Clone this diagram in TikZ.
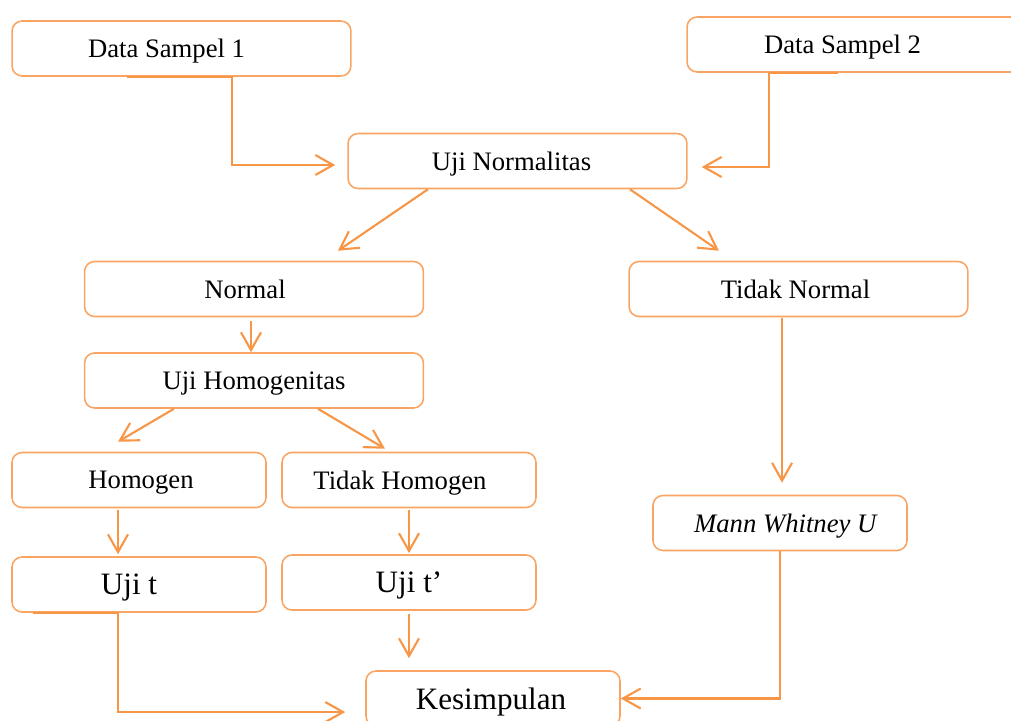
\documentclass[tikz,border=0pt]{standalone}
\usepackage{fontspec}
\setmainfont{Liberation Serif}
\usepackage{xcolor}
\usetikzlibrary{arrows.meta}
\usetikzlibrary{calc}
\definecolor{oranye}{HTML}{F79646}
\definecolor{oranyemuda}{HTML}{F9A462}

\begin{document}
\begin{tikzpicture}[x=0.45pt,y=-0.45pt,
      >={Straight Barb[length=8pt,width=9pt]},
      kotak/.style={draw=oranyemuda,line width=0.7pt,rounded corners=4.5pt,
        minimum height=24.75pt,inner sep=0pt,text depth=0pt,
        font=\fontsize{12}{14}\selectfont},
      lebar/.style={kotak,minimum width=152.5pt},
      sempit/.style={kotak,minimum width=114.3pt},
      besar/.style={font=\fontsize{14}{17}\selectfont},
      geser/.style={execute at end node={\hspace*{#1}}},
      alur/.style={->,draw=oranye,line width=0.95pt}]
      \useasboundingbox (0,0) rectangle (1011,720);

      \node[lebar,geser=13.5pt] (ds1) at (181.5,48.5) {Data Sampel 1};
      \node[lebar,geser=12.6pt] (ds2) at (856.5,44.5) {Data Sampel 2};
      \node[lebar,geser=5.4pt] (un) at (517.5,161) {Uji Normalitas};
      \node[lebar,geser=8.1pt] (nor) at (254,289) {Normal};
      \node[lebar,geser=2.7pt] (tn) at (798.5,289) {Tidak Normal};
      \node[lebar] (uh) at (254,380.5) {Uji Homogenitas};
      \node[sempit,geser=-1.8pt] (hom) at (139,480) {Homogen};
      \node[sempit,geser=8.1pt] (th) at (409,480) {Tidak Homogen};
      \node[sempit,besar,geser=9pt] (ujit) at (139,584.5) {Uji t};
      \node[sempit,besar] (ujitp) at (409,582.5) {Uji t’};
      \node[sempit,geser=-5.4pt] (mwu) at (780,523) {\textit{Mann Whitney U}};
      \node[sempit,besar,geser=1.8pt] (kes) at (493,698.5) {Kesimpulan};

      \draw[alur,shorten >=5.4pt] ([xshift=-24.5pt]ds1.south) -- ([xshift=22.7pt]ds1.south)
        |- ([yshift=-1.8pt]un.west);
      \draw[alur,shorten >=6.3pt] ([xshift=-8.3pt]ds2.south) -- ([xshift=-39.4pt]ds2.south)
        |- ([yshift=-2.7pt]un.east);
      \draw[alur] ([xshift=-40.3pt]un.south) -- ([xshift=37.8pt,yshift=4.5pt]nor.north);
      \draw[alur] ([xshift=50.6pt]un.south) -- ([xshift=-35.8pt,yshift=4.5pt]tn.north);
      \draw[alur,shorten <=1.8pt] ([xshift=-1.35pt]nor.south) -- ([xshift=-1.35pt]uh.north);
      \draw[alur] ([xshift=-36pt]uh.south) -- ([xshift=-9.45pt,yshift=4.5pt]hom.north);
      \draw[alur] ([xshift=28.8pt]uh.south) -- ([xshift=-10.8pt,yshift=1.35pt]th.north);
      \draw[alur,shorten <=0.9pt,shorten >=0.9pt] ([xshift=-9.45pt]hom.south)
        -- ([xshift=-9.45pt]ujit.north);
      \draw[alur,shorten <=0.9pt,shorten >=0.5pt] (th.south) -- (ujitp.north);
      \draw[alur,shorten <=1.35pt,shorten >=5.4pt] (ujitp.south) -- (ujitp.south |- kes.north);
      \draw[alur,shorten >=9pt] ([xshift=-47.7pt]ujit.south) -- ([xshift=-9.45pt]ujit.south)
        |- ([yshift=-6.1pt]kes.west);
      \draw[alur,shorten <=0.5pt,shorten >=5.4pt] ([xshift=-7.4pt]tn.south)
        -- ([xshift=-7.4pt]tn.south |- mwu.north);
      \draw[alur] (mwu.south) |- (kes.east);
    \end{tikzpicture}
\end{document}
